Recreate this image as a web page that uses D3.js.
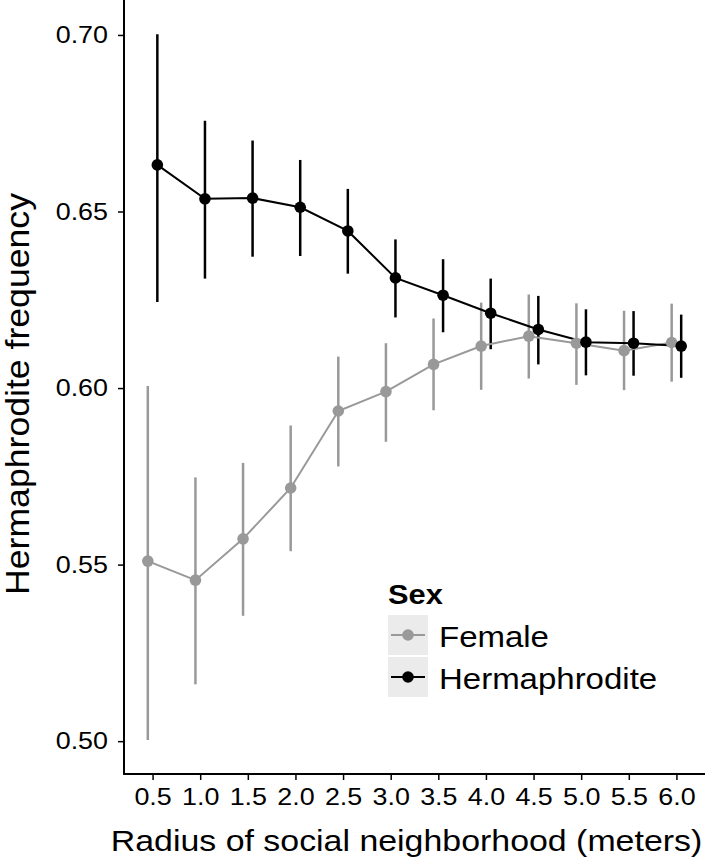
<!DOCTYPE html>
<html><head><meta charset="utf-8">
<script src="https://cdn.jsdelivr.net/npm/d3@7"></script>
<style>body{margin:0;background:#fff}svg{display:block}text{font-family:"Liberation Sans",Arial,sans-serif}</style>
</head><body>
<svg id="c" width="709" height="860"></svg>
<script>
const categories = ["0.5","1.0","1.5","2.0","2.5","3.0","3.5","4.0","4.5","5.0","5.5","6.0"];
const femaleMean = [0.5510,0.5456,0.5573,0.5717,0.5935,0.5990,0.6067,0.6119,0.6147,0.6127,0.6106,0.6129];
const femaleLow  = [0.5003,0.5161,0.5355,0.5538,0.5778,0.5848,0.5937,0.5995,0.6027,0.6009,0.5994,0.6018];
const femaleHigh = [0.6006,0.5747,0.5788,0.5894,0.6089,0.6127,0.6197,0.6242,0.6265,0.6240,0.6219,0.6239];
const hermMean = [0.6632,0.6536,0.6538,0.6512,0.6445,0.6312,0.6263,0.6212,0.6166,0.6130,0.6127,0.6119];
const hermLow  = [0.6244,0.6310,0.6372,0.6374,0.6324,0.6200,0.6158,0.6110,0.6067,0.6036,0.6035,0.6029];
const hermHigh = [0.7002,0.6757,0.6701,0.6646,0.6564,0.6421,0.6365,0.6310,0.6261,0.6223,0.6218,0.6208];
const yTicks = [0.50,0.55,0.60,0.65,0.70];
const seriesNames = ["Female","Hermaphrodite"];
const seriesColors = ["#999999","#000000"];

const svg = d3.select("#c");
const L = 124, R = 705, T = 0, B = 774;
const x = d3.scalePoint().domain(categories).range([L, R]).padding(0.6);
const y = d3.scaleLinear().domain([0.4907, 0.7099]).range([B, T]);
const dodge = x.step() * 0.1;

// horizontal stretch helper (text anchored at its x attribute)
function stretch(sel, sx) {
  sel.each(function(){
    const t = d3.select(this);
    const ax = +t.attr("x") || 0;
    t.attr("transform", `translate(${ax},0) scale(${sx},1) translate(${-ax},0)`);
  });
}

const series = [
  {name: seriesNames[0], color: seriesColors[0], off: -dodge,
   d: categories.map((c,i)=>({c, m: femaleMean[i], lo: femaleLow[i], hi: femaleHigh[i]}))},
  {name: seriesNames[1], color: seriesColors[1], off: dodge,
   d: categories.map((c,i)=>({c, m: hermMean[i], lo: hermLow[i], hi: hermHigh[i]}))}
];

// axes
const yAxis = d3.axisLeft(y).tickValues(yTicks).tickFormat(d3.format(".2f")).tickSize(6).tickPadding(10);
const gy = svg.append("g").attr("transform", `translate(${L},0)`).call(yAxis);
gy.select(".domain").remove();
gy.selectAll(".tick line").attr("stroke","#000").attr("stroke-width",1.5);
gy.selectAll(".tick text").attr("font-size",24).attr("fill","#000").attr("font-family","Liberation Sans").call(stretch, 1.12);

const xAxis = d3.axisBottom(x).tickSize(6).tickPadding(8);
const gx = svg.append("g").attr("transform", `translate(0,${B})`).call(xAxis);
gx.select(".domain").remove();
gx.selectAll(".tick line").attr("stroke","#000").attr("stroke-width",1.5);
gx.selectAll(".tick text").attr("font-size",24).attr("fill","#000").attr("font-family","Liberation Sans").call(stretch, 1.12);

svg.append("line").attr("x1",L).attr("x2",L).attr("y1",T).attr("y2",B+0.75).attr("stroke","#000").attr("stroke-width",2);
svg.append("line").attr("x1",L-0.75).attr("x2",R).attr("y1",B).attr("y2",B).attr("stroke","#000").attr("stroke-width",2);

// error bars
series.forEach(s=>{
  svg.append("g").selectAll("line").data(s.d).join("line")
    .attr("x1",d=>x(d.c)+s.off).attr("x2",d=>x(d.c)+s.off)
    .attr("y1",d=>y(d.lo)).attr("y2",d=>y(d.hi))
    .attr("stroke",s.color).attr("stroke-width",2.5);
});
// lines
const lineGen = d3.line();
series.forEach(s=>{
  svg.append("path").attr("d", lineGen(s.d.map(d=>[x(d.c)+s.off, y(d.m)])))
    .attr("fill","none").attr("stroke",s.color).attr("stroke-width",2);
});
// points
series.forEach(s=>{
  svg.append("g").selectAll("circle").data(s.d).join("circle")
    .attr("cx",d=>x(d.c)+s.off).attr("cy",d=>y(d.m)).attr("r",5.8).attr("fill",s.color);
});

// axis titles
svg.append("text").attr("x",(L+R)/2 - 8).attr("y",851).attr("text-anchor","middle")
  .attr("font-size",30).attr("fill","#000").text("Radius of social neighborhood (meters)").call(stretch, 1.13);
svg.append("text").attr("transform",`translate(29,394) rotate(-90) scale(1.08,1)`).attr("text-anchor","middle")
  .attr("font-size",33).attr("fill","#000").text("Hermaphrodite frequency");

// legend
const lg = svg.append("g").attr("transform","translate(388,0)");
lg.append("text").attr("x",0).attr("y",604).attr("font-size",28).attr("font-weight","bold").attr("fill","#000").text("Sex").call(stretch, 1.1);
series.forEach((s,i)=>{
  const ky = 615 + i*42;
  lg.append("rect").attr("x",0).attr("y",ky).attr("width",40).attr("height",40).attr("fill","#ebebeb");
  lg.append("line").attr("x1",3).attr("x2",37).attr("y1",ky+20).attr("y2",ky+20).attr("stroke",s.color).attr("stroke-width",2);
  lg.append("circle").attr("cx",20).attr("cy",ky+20).attr("r",5.8).attr("fill",s.color);
  lg.append("text").attr("x",51).attr("y",ky+32).attr("font-size",30).attr("fill","#000").text(s.name).call(stretch, 1.1);
});
</script>
</body></html>
